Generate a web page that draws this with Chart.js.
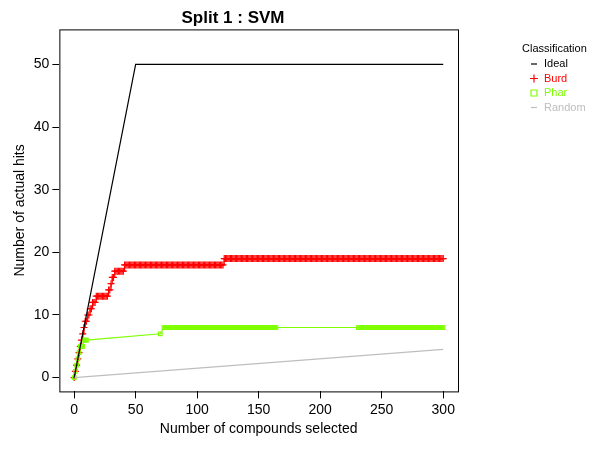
<!DOCTYPE html>
<html><head><script src="https://cdn.jsdelivr.net/npm/chart.js@4"></script>
<style>body{margin:0;background:#fff}#w{width:600px;height:450px}</style></head>
<body><div id="w"><canvas id="c"></canvas></div>
<script>
const idealX=[0,50,300], idealY=[0,50,50];
const randomX=[0,300], randomY=[0,4.5];
// Burd: step change points (x where value starts, value)
const burdStepX=[1,2,3,4,5,6,7,8,9,11,13,15,18,28,30,31,33,41,122];
const burdStepY=[1,2,3,4,5,6,7,8,9,10,11,12,13,14,15,16,17,18,19];
const burdEnd=300;
// Phar: explicit points and flat runs
const pharX=[0,1,2,3,4,5,6,7,8,9,10,70,73];
const pharY=[0,1,2,3,4,5,5,5,6,6,6,7,8];
const pharRuns=[[74,164,8],[231,300,8]];

const burd=[{x:0,y:0}];
for(let x=1;x<=burdEnd;x++){let v=0;for(let i=0;i<burdStepX.length;i++)if(x>=burdStepX[i])v=burdStepY[i];burd.push({x,y:v});}
const phar=pharX.map((x,i)=>({x,y:pharY[i]}));
pharRuns.forEach(r=>{for(let x=r[0];x<=r[1];x++)phar.push({x,y:r[2]});});
const zip=(a,b)=>a.map((x,i)=>({x,y:b[i]}));

const frame={id:'frame',afterDraw(c){const a=c.chartArea,g=c.ctx;g.save();g.strokeStyle='#000';g.lineWidth=1;g.strokeRect(a.left+.5,a.top+.5,a.right-a.left,a.bottom-a.top);
g.font='11px "Liberation Sans", Arial';g.textAlign='left';g.textBaseline='middle';g.fillStyle='#000';g.fillText('Classification',522,49);
const items=[['Ideal','#000','line'],['Burd','#ff0000','plus'],['Phar','#7fff00','sq'],['Random','#bebebe','line']];
items.forEach((it,i)=>{const y=64+i*14.5,x=534;g.strokeStyle=it[1];g.lineWidth=1.2;g.beginPath();
if(it[2]=='line'){g.moveTo(x-3,y);g.lineTo(x+3,y);}else if(it[2]=='plus'){g.moveTo(x-4,y);g.lineTo(x+4,y);g.moveTo(x,y-4);g.lineTo(x,y+4);}else{g.rect(x-3,y-3,6,6);}
g.stroke();g.fillStyle=it[1];g.fillText(it[0],544,y);});g.restore();}};

new Chart(document.getElementById('c'),{type:'line',
data:{datasets:[
{label:'Ideal',data:zip(idealX,idealY),borderColor:'#000',borderWidth:1.2,pointRadius:0},
{label:'Random',data:zip(randomX,randomY),borderColor:'#bebebe',borderWidth:1.2,pointRadius:0},
{label:'Phar',data:phar,borderColor:'#7fff00',borderWidth:1.2,pointStyle:'rect',pointRadius:2.5,pointBorderColor:'#7fff00',pointBackgroundColor:'rgba(0,0,0,0)',pointBorderWidth:1.2},
{label:'Burd',data:burd,borderColor:'#ff0000',borderWidth:1.2,stepped:'before',pointStyle:'cross',pointRadius:3.5,pointBorderColor:'#ff0000',pointBorderWidth:1.2}
]},
options:{responsive:true,maintainAspectRatio:false,animation:false,
layout:{padding:{left:8,right:142,top:0,bottom:8}},
plugins:{legend:{display:false},tooltip:{enabled:false},
title:{display:true,text:'Split 1 : SVM',font:{family:'"Liberation Sans", Arial',size:17,weight:'bold'},color:'#000',padding:{top:8,bottom:1}}},
scales:{
x:{type:'linear',min:-12,max:312,afterBuildTicks:a=>{a.ticks=[0,50,100,150,200,250,300].map(v=>({value:v}))},
border:{display:false},grid:{drawOnChartArea:false,tickLength:7,color:'#000'},
ticks:{color:'#000',font:{family:'"Liberation Sans", Arial',size:14},maxRotation:0},
title:{display:true,text:'Number of compounds selected',color:'#000',font:{family:'"Liberation Sans", Arial',size:14},padding:{top:0}}},
y:{min:-2.2,max:55.6,afterBuildTicks:a=>{a.ticks=[0,10,20,30,40,50].map(v=>({value:v}))},
border:{display:false},grid:{drawOnChartArea:false,tickLength:7,color:'#000'},
ticks:{color:'#000',font:{family:'"Liberation Sans", Arial',size:14}},
title:{display:true,text:'Number of actual hits',color:'#000',font:{family:'"Liberation Sans", Arial',size:14},padding:{bottom:2}}}
}},plugins:[frame]});
</script></body></html>
